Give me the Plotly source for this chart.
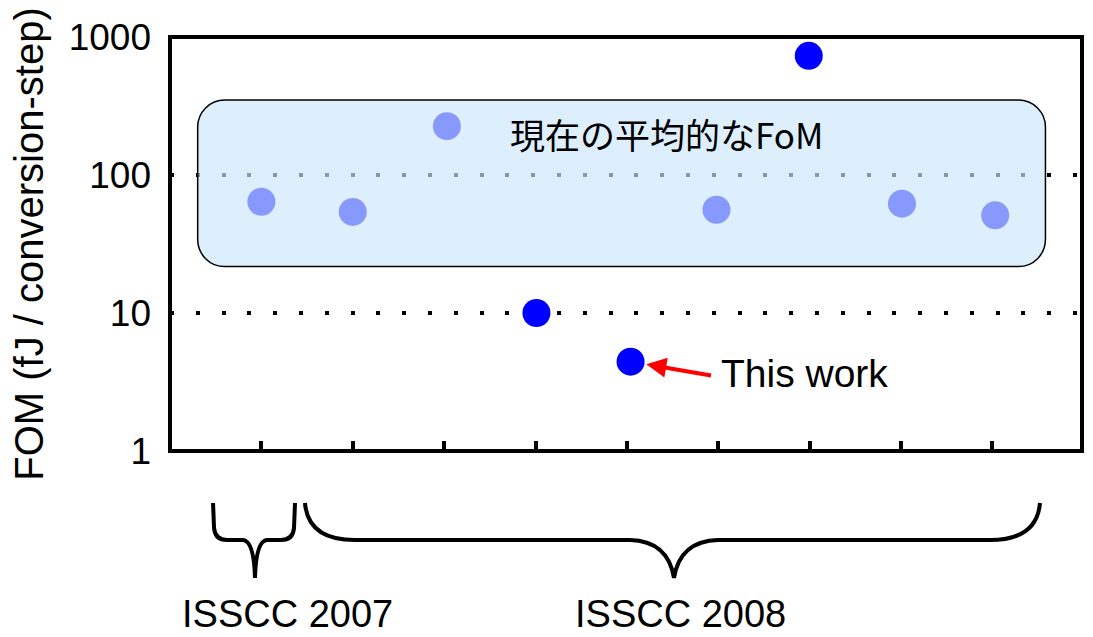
import math
import plotly.graph_objects as go

# ---- data ----
x_pos = [1, 2, 3.03, 4.01, 5.04, 5.98, 6.99, 8.01, 9.03]
fom = [64, 54, 226, 10, 4.44, 56, 731, 62, 51]
y_ticks = [1, 10, 100, 1000]
y_ticktext = ["1", "10", "100", "1000"]
x_ticks = [1, 2, 3, 4, 5, 6, 7, 8, 9]
y_title = "FOM (fJ / conversion-step)"
box_label = "現在の平均的なFoM"
work_label = "This work"
work_index = 4
groups = ["ISSCC 2007", "ISSCC 2008"]
group_spans = [(0.471, 1.368, 0.93), (1.477, 9.52, 5.515)]   # x0, x1, tip (data units)
group_label_x = [1.286, 5.589]
box_x = [0.303, 9.58]
box_y = [21.7, 349]

W, H = 1093, 637
ML, MR, MT, MB = 170, 11, 37, 186
XR = [0, 9.98]
YR = [0, 3]
PW, PH = W - ML - MR, H - MT - MB


def xpix(xd):
    return ML + (xd - XR[0]) / (XR[1] - XR[0]) * PW


def ypix_log(yd):
    return MT + PH - (math.log10(yd) - YR[0]) / (YR[1] - YR[0]) * PH


def px2paper_x(px):
    return (px - ML) / PW


def px2paper_y(py):
    return (MT + PH - py) / PH


def P(x, y):
    return f"{px2paper_x(x):.5f},{px2paper_y(y):.5f}"


FONT = "Liberation Sans, Arial, sans-serif"

fig = go.Figure()
fig.add_trace(go.Scatter(
    x=x_pos, y=fom, mode="markers",
    marker=dict(size=28, color="#0000FF", line=dict(width=0)),
    showlegend=False, hoverinfo="skip"))

shapes = []
# rounded box
bx0, bx1 = xpix(box_x[0]), xpix(box_x[1])
by0, by1 = ypix_log(box_y[1]), ypix_log(box_y[0])
r = 27
k = 0.5523
path = (
    f"M {P(bx0 + r, by0)} L {P(bx1 - r, by0)} "
    f"C {P(bx1 - r + k*r, by0)} {P(bx1, by0 + r - k*r)} {P(bx1, by0 + r)} "
    f"L {P(bx1, by1 - r)} "
    f"C {P(bx1, by1 - r + k*r)} {P(bx1 - r + k*r, by1)} {P(bx1 - r, by1)} "
    f"L {P(bx0 + r, by1)} "
    f"C {P(bx0 + r - k*r, by1)} {P(bx0, by1 - r + k*r)} {P(bx0, by1 - r)} "
    f"L {P(bx0, by0 + r)} "
    f"C {P(bx0, by0 + r - k*r)} {P(bx0 + r - k*r, by0)} {P(bx0 + r, by0)} Z"
)
shapes.append(dict(type="path", xref="paper", yref="paper", path=path,
                   fillcolor="rgba(204,230,252,0.667)",
                   line=dict(color="black", width=1.5), layer="above"))

# frame
shapes.append(dict(type="rect", xref="paper", yref="paper", x0=0, x1=1, y0=0, y1=1,
                   line=dict(color="black", width=4), layer="above"))


# braces
def brace_path(x0d, x1d, xtd, small):
    x0, x1, xt = xpix(x0d), xpix(x1d), xpix(xtd)
    top, mid, tip = 503, 540, 578
    if small:
        p = (f"M {P(x0, top)} L {P(x0 + 1, mid - 12)} Q {P(x0 + 2, mid)} {P(x0 + 14, mid)} "
             f"L {P(xt - 12, mid)} Q {P(xt - 1, mid + 1)} {P(xt, tip)} "
             f"Q {P(xt + 1, mid + 1)} {P(xt + 12, mid)} "
             f"L {P(x1 - 14, mid)} Q {P(x1 - 2, mid)} {P(x1 - 1, mid - 12)} L {P(x1, top)}")
    else:
        p = (f"M {P(x0, top)} Q {P(x0 + 3, mid)} {P(x0 + 50, mid)} "
             f"L {P(xt - 44, mid)} Q {P(xt - 6, mid + 1)} {P(xt, tip)} "
             f"Q {P(xt + 6, mid + 1)} {P(xt + 44, mid)} "
             f"L {P(x1 - 50, mid)} Q {P(x1 - 3, mid)} {P(x1, top)}")
    return p


for i, (a, b, t) in enumerate(group_spans):
    shapes.append(dict(type="path", xref="paper", yref="paper",
                       path=brace_path(a, b, t, i == 0),
                       line=dict(color="black", width=4), layer="above"))

annotations = []
# box label
annotations.append(dict(x=5.43, y=math.log10(201), xref="x", yref="y", text=box_label,
                        showarrow=False, font=dict(family="Noto Sans CJK JP", size=35, color="black"),
                        xanchor="center", yanchor="middle"))
# arrow to this work
annotations.append(dict(x=x_pos[work_index], y=math.log10(fom[work_index]), xref="x", yref="y",
                        text="", showarrow=True, arrowhead=2, arrowsize=1, arrowwidth=4,
                        arrowcolor="#FF0000", standoff=16, ax=82, ay=14))
annotations.append(dict(x=6.01, y=math.log10(3.646), xref="x", yref="y", text=work_label,
                        showarrow=False, font=dict(family=FONT, size=39, color="black"),
                        xanchor="left", yanchor="middle"))
for g, gx in zip(groups, group_label_x):
    annotations.append(dict(x=gx, y=px2paper_y(614), xref="x", yref="paper", text=g,
                            showarrow=False, font=dict(family=FONT, size=38, color="black"),
                            xanchor="center", yanchor="middle", borderpad=0))

fig.update_layout(
    width=W, height=H,
    margin=dict(l=ML, r=MR, t=MT, b=MB),
    paper_bgcolor="white", plot_bgcolor="white",
    font=dict(family=FONT, size=37, color="black"),
    shapes=shapes, annotations=annotations,
    xaxis=dict(range=XR, tickvals=x_ticks, ticktext=[""] * len(x_ticks), ticks="inside",
               ticklen=10, tickwidth=4, tickcolor="black", showgrid=False, zeroline=False,
               showline=False),
    yaxis=dict(type="log", range=YR, tickvals=y_ticks, ticktext=y_ticktext, ticks="",
               showgrid=True, gridcolor="black", gridwidth=4, griddash="4px,21.8px",
               zeroline=False, showline=False, ticklabelstandoff=18,
               tickfont=dict(family=FONT, size=37, color="black"),
               title=dict(text=y_title, font=dict(family=FONT, size=40, color="black"), standoff=12)),
)

fig.write_html("out.html")
